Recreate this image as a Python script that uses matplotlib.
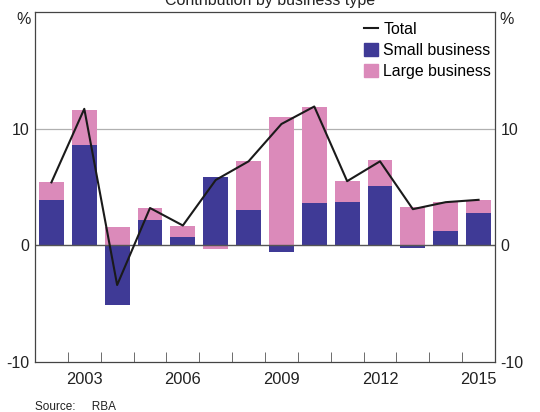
import numpy as np
import matplotlib
matplotlib.use("Agg")
import matplotlib.pyplot as plt
from matplotlib.lines import Line2D
from matplotlib.patches import Patch

plt.rcParams["font.family"] = ["Liberation Sans", "DejaVu Sans"]

# annual contributions, per cent
years = list(range(2002, 2016))
small_business = [3.9, 8.6, -5.1, 2.2, 0.7, 5.9, 3.0, -0.6, 3.6, 3.7, 5.1, -0.2, 1.2, 2.8]
large_business = [1.5, 3.0, 1.6, 1.0, 1.0, -0.3, 4.2, 11.0, 8.3, 1.8, 2.2, 3.3, 2.5, 1.1]
total = [5.4, 11.7, -3.4, 3.2, 1.7, 5.6, 7.2, 10.4, 11.9, 5.5, 7.2, 3.1, 3.7, 3.9]
year_labels = ["2003", "2006", "2009", "2012", "2015"]

SMALL_COL = "#3f3a96"
LARGE_COL = "#db8aba"

fig = plt.figure(figsize=(5.4, 4.12), dpi=100)
ax = fig.add_axes([35 / 540, 1 - 362 / 412, 460 / 540, 350 / 412])

x = np.arange(len(years)) + 0.5
small = np.array(small_business)
large = np.array(large_business)

# stack positives upward and negatives downward
pos_base = np.zeros(len(x))
neg_base = np.zeros(len(x))
for vals, col in [(small, SMALL_COL), (large, LARGE_COL)]:
    bottoms = np.where(vals >= 0, pos_base, neg_base)
    ax.bar(x, vals, width=0.76, bottom=bottoms, color=col, zorder=2)
    pos_base = pos_base + np.clip(vals, 0, None)
    neg_base = neg_base + np.clip(vals, None, 0)

ax.plot(x, total, color="#1a1a1a", lw=1.5, zorder=3)

ax.set_xlim(0, len(years))
ax.set_ylim(-10, 20)
ax.axhline(10, color="#b0b0b0", lw=0.9, zorder=1)
ax.axhline(0, color="#555555", lw=1.0, zorder=2.5)

ax.set_yticks([-10, 0, 10, 20])
ax.set_yticklabels(["-10", "0", "10", ""])
ax.tick_params(axis="y", length=0, labelsize=11.5, pad=4, colors="#222222",
               labelright=True, right=False)

ax.set_xticks(np.arange(1, len(years)), minor=True)
ax.set_xticks([years.index(int(y)) + 0.5 for y in year_labels])
ax.set_xticklabels(year_labels)
ax.tick_params(axis="x", which="major", length=0, labelsize=11.8, pad=7, colors="#222222")
ax.tick_params(axis="x", which="minor", direction="in", length=7, color="#555555")

for s in ax.spines.values():
    s.set_color("#444444")
    s.set_linewidth(0.9)

fig.text(24 / 540, 1 - 20 / 412, "%", fontsize=11.5, ha="center", va="center", color="#222222")
fig.text(507 / 540, 1 - 20 / 412, "%", fontsize=11.5, ha="center", va="center", color="#222222")
fig.text(0.5, 1 - 1 / 412, "Contribution by business type", fontsize=11.5,
         ha="center", va="center", color="#222222")
fig.text(35 / 540, 1 - 407 / 412, "Source:     RBA", fontsize=8.5, ha="left", va="center",
         color="#222222")

handles = [Line2D([], [], color="#1a1a1a", lw=1.5),
           Patch(color=SMALL_COL), Patch(color=LARGE_COL)]
ax.legend(handles, ["Total", "Small business", "Large business"], loc="upper right",
          bbox_to_anchor=(1.012, 1.0), frameon=False, fontsize=11.4,
          handlelength=0.9, handleheight=0.9, handletextpad=0.3, labelspacing=0.4,
          borderaxespad=0.2)

fig.savefig("out.png", dpi=100)
